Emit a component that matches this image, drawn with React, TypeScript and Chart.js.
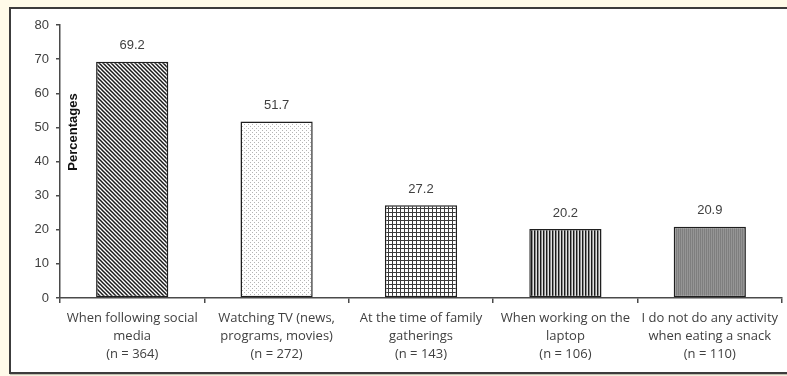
import React, { useEffect, useRef } from "react";
import { Chart, registerables } from "chart.js";

Chart.register(...registerables);

const categories: string[][] = [
  ["When following social", "media", "(n = 364)"],
  ["Watching TV (news,", "programs, movies)", "(n = 272)"],
  ["At the time of family", "gatherings", "(n = 143)"],
  ["When working on the", "laptop", "(n = 106)"],
  ["I do not do any activity", "when eating a snack", "(n = 110)"],
];
const values: number[] = [69.2, 51.7, 27.2, 20.2, 20.9];
const valueLabels: string[] = ["69.2", "51.7", "27.2", "20.2", "20.9"];
const yAxisTitle = "Percentages";

function makeTile(w: number, h: number, draw: (c: CanvasRenderingContext2D) => void): CanvasPattern {
  const cv = document.createElement("canvas");
  cv.width = w;
  cv.height = h;
  const c = cv.getContext("2d")!;
  draw(c);
  return c.createPattern(cv, "repeat")!;
}

function buildPatterns(): CanvasPattern[] {
  const diag = makeTile(4, 4, (c) => {
    c.fillStyle = "#ffffff";
    c.fillRect(0, 0, 4, 4);
    c.strokeStyle = "#1a1a1a";
    c.lineWidth = 1.5;
    c.beginPath();
    c.moveTo(-1, -1);
    c.lineTo(5, 5);
    c.moveTo(-1, 3);
    c.lineTo(1, 5);
    c.moveTo(3, -1);
    c.lineTo(5, 1);
    c.stroke();
  });
  const dots = makeTile(4, 4, (c) => {
    c.fillStyle = "#ffffff";
    c.fillRect(0, 0, 4, 4);
    c.fillStyle = "#b4b4b4";
    c.fillRect(0, 0, 1, 1);
    c.fillRect(2, 2, 1, 1);
  });
  const grid = makeTile(4, 4, (c) => {
    c.fillStyle = "#ffffff";
    c.fillRect(0, 0, 4, 4);
    c.fillStyle = "#3a3a3a";
    c.fillRect(0, 0, 4, 1);
    c.fillRect(0, 0, 1, 4);
  });
  const vert = makeTile(3, 1, (c) => {
    c.fillStyle = "#1a1a1a";
    c.fillRect(0, 0, 1, 1);
    c.fillStyle = "#8a8a8a";
    c.fillRect(1, 0, 1, 1);
    c.fillStyle = "#e0e0e0";
    c.fillRect(2, 0, 1, 1);
  });
  const gray = makeTile(2, 1, (c) => {
    c.fillStyle = "#7e7e7e";
    c.fillRect(0, 0, 1, 1);
    c.fillStyle = "#959595";
    c.fillRect(1, 0, 1, 1);
  });
  return [diag, dots, grid, vert, gray];
}

const valueLabelPlugin = {
  id: "valueLabels",
  afterDatasetsDraw(chart: any) {
    const ctx = chart.ctx;
    const meta = chart.getDatasetMeta(0);
    ctx.save();
    ctx.font = "13px 'Liberation Sans', Arial, sans-serif";
    ctx.fillStyle = "#404040";
    ctx.textAlign = "center";
    ctx.textBaseline = "middle";
    meta.data.forEach((bar: any, i: number) => {
      ctx.fillText(valueLabels[i], bar.x, bar.y - 16);
    });
    ctx.restore();
  },
};

const axisTitlePlugin = {
  id: "axisTitleInside",
  afterDraw(chart: any) {
    const ctx = chart.ctx;
    const area = chart.chartArea;
    ctx.save();
    ctx.translate(area.left + 13, area.top + 107);
    ctx.rotate(-Math.PI / 2);
    ctx.font = "bold 13px 'Liberation Sans', Arial, sans-serif";
    ctx.fillStyle = "#111111";
    ctx.textAlign = "center";
    ctx.textBaseline = "middle";
    ctx.fillText(yAxisTitle, 0, 0);
    ctx.restore();
  },
};

export default function App() {
  const ref = useRef<HTMLCanvasElement | null>(null);

  useEffect(() => {
    if (!ref.current) return;
    const patterns = buildPatterns();
    const chart = new Chart(ref.current, {
      type: "bar",
      data: {
        labels: categories,
        datasets: [
          {
            data: values,
            backgroundColor: patterns,
            borderColor: "#1f1f1f",
            borderWidth: 1.5,
            borderSkipped: false,
            barPercentage: 0.5,
            categoryPercentage: 1,
          },
        ],
      },
      options: {
        responsive: false,
        animation: false,
        devicePixelRatio: 1,
        layout: { padding: { top: 25, right: 5, left: 0, bottom: 0 } },
        plugins: {
          legend: { display: false },
          tooltip: { enabled: false },
          title: { display: false },
        },
        scales: {
          x: {
            offset: true,
            grid: {
              display: true,
              drawOnChartArea: false,
              drawTicks: true,
              tickLength: 5,
              color: "#4a4a4a",
              lineWidth: 1.5,
              offset: true,
            },
            border: { display: true, color: "#4a4a4a", width: 1.5 },
            ticks: {
              color: "#404040",
              font: { family: "'Open Sans', sans-serif", size: 13, lineHeight: 1.35 },
              maxRotation: 0,
              minRotation: 0,
              autoSkip: false,
              padding: 7,
            },
            afterFit(scale: any) {
              scale.height = 78;
            },
          },
          y: {
            min: 0,
            max: 80,
            ticks: {
              stepSize: 10,
              color: "#404040",
              font: { family: "'Liberation Sans', Arial, sans-serif", size: 13 },
              padding: 7,
            },
            grid: {
              display: true,
              drawOnChartArea: false,
              drawTicks: true,
              tickLength: 4,
              color: "#4a4a4a",
              lineWidth: 1.5,
            },
            border: { display: true, color: "#4a4a4a", width: 1.5 },
            afterFit(scale: any) {
              scale.width = 60;
            },
          },
        },
      },
      plugins: [valueLabelPlugin, axisTitlePlugin],
    });
    return () => chart.destroy();
  }, []);

  return (
    <div
      style={{
        position: "fixed",
        left: 0,
        top: 0,
        width: 787,
        height: 376,
        background: "#fffbe9",
        overflow: "hidden",
      }}
    >
      <div
        style={{
          position: "absolute",
          left: 9,
          top: 7,
          width: 800,
          height: 363,
          border: "2px solid #3c3c3c",
          background: "#ffffff",
          boxShadow: "1px 1px 1px rgba(0,0,0,0.25)",
        }}
      />
      <canvas
        ref={ref}
        width={787}
        height={376}
        style={{ position: "absolute", left: 0, top: 0, width: 787, height: 376 }}
      />
    </div>
  );
}
